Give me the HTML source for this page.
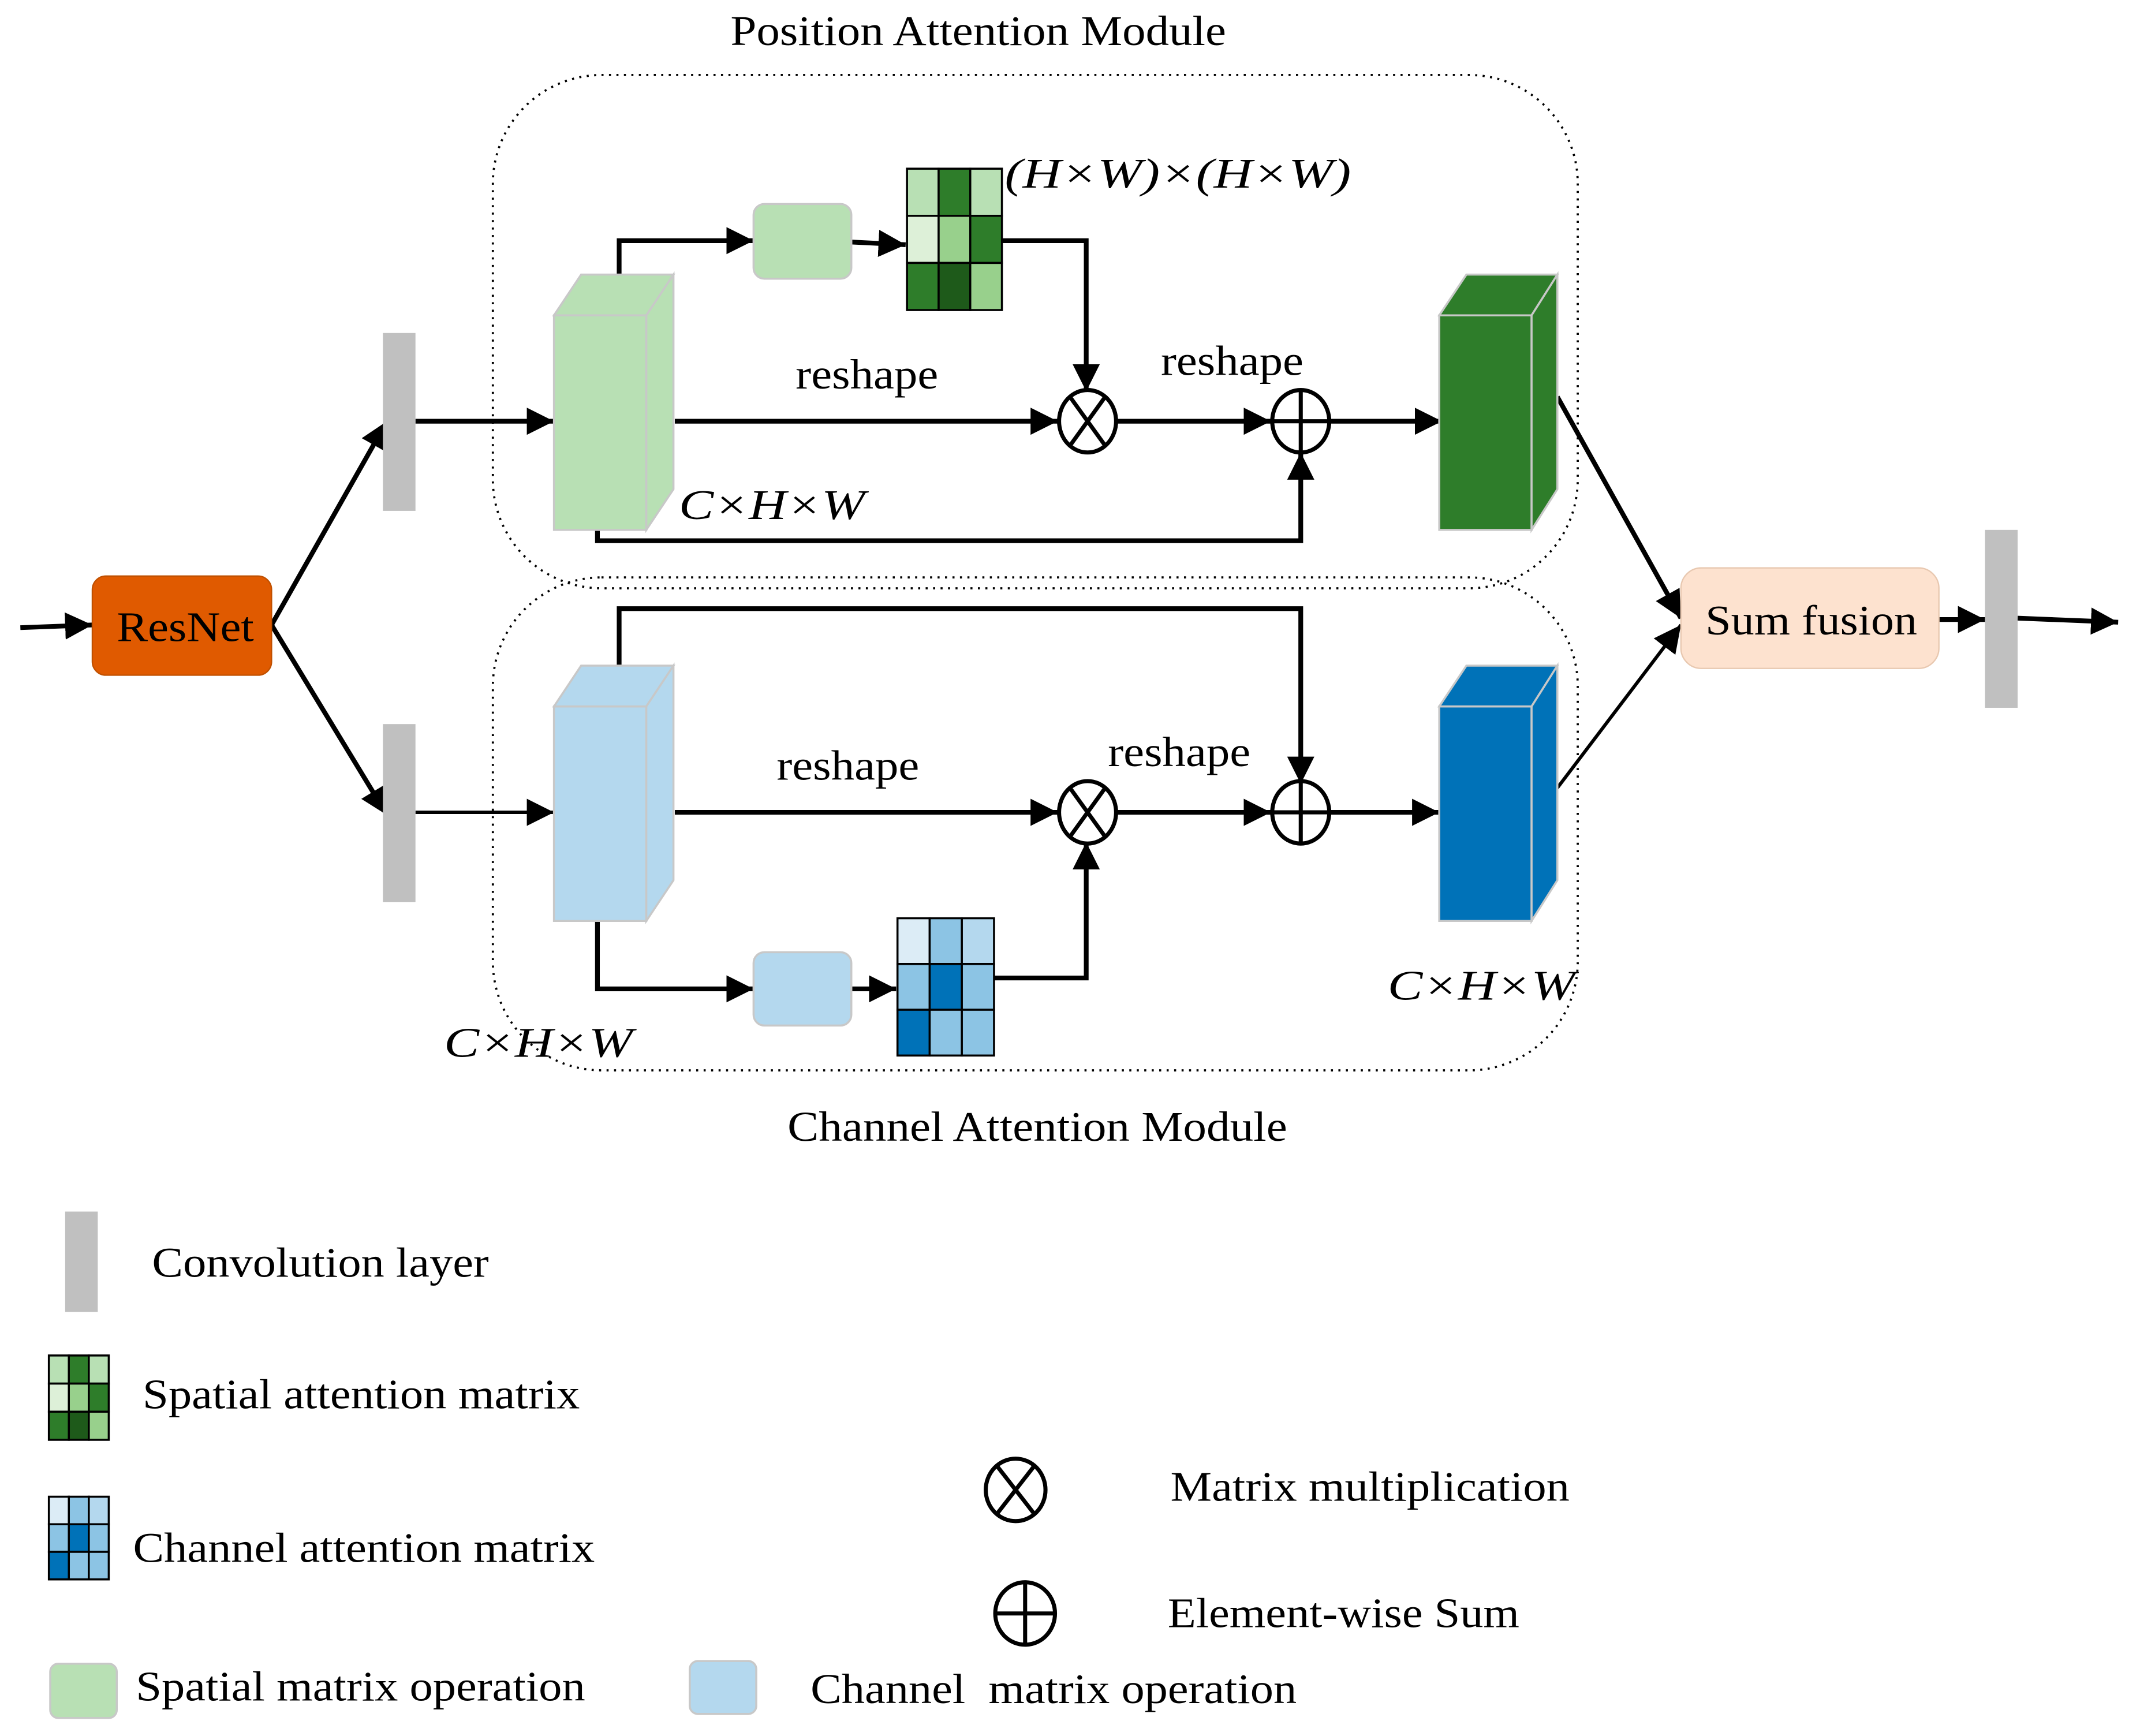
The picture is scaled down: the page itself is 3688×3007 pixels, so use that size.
<!DOCTYPE html>
<html><head><meta charset="utf-8"><style>
html,body{margin:0;padding:0;background:#fff;}
svg{display:block;}
text{font-family:"Liberation Serif",serif;fill:#000;}
.i{font-style:italic;}
</style></head><body>
<svg width="3688" height="3007" viewBox="0 0 1568 1278" xmlns="http://www.w3.org/2000/svg">
<defs>
<marker id="ar" viewBox="0 0 10 10" refX="10" refY="5" markerWidth="20" markerHeight="20" markerUnits="userSpaceOnUse" orient="auto"><path d="M0,0 L10,5 L0,10 z" fill="#000"/></marker>
</defs>
<g fill="none" stroke="#000" stroke-width="1.6" stroke-dasharray="1.5,4">
<rect x="363" y="55" width="799" height="378" rx="80"/>
<rect x="363" y="425" width="799" height="363" rx="80"/>
</g>

<g stroke="#000" stroke-width="3.5" fill="none" marker-end="url(#ar)">
<line x1="15" y1="462" x2="68" y2="460"/>
<line x1="200" y1="460" x2="285" y2="310"/>
<line x1="200" y1="460" x2="285" y2="600"/>
<line x1="306" y1="310" x2="408" y2="310"/>
<line x1="306" y1="598" x2="408" y2="598" stroke-width="2.5"/>
<polyline points="456,202 456,177 555,177"/>
<line x1="627" y1="178" x2="667" y2="180"/>
<polyline points="738,177 800,177 800,288"/>
<line x1="497" y1="310" x2="779" y2="310"/>
<line x1="823" y1="310" x2="936" y2="310"/>
<line x1="980" y1="310" x2="1062" y2="310"/>
<polyline points="440,390 440,398 958,398 958,333"/>
<line x1="1147" y1="292" x2="1238" y2="455"/>
<line x1="1147" y1="580" x2="1238" y2="460" stroke-width="2.5"/>
<line x1="1428" y1="456" x2="1462" y2="456"/>
<line x1="1486" y1="455" x2="1560" y2="458"/>
<polyline points="456,490 456,448 958,448 958,577"/>
<line x1="497" y1="598" x2="779" y2="598"/>
<line x1="823" y1="598" x2="936" y2="598"/>
<line x1="980" y1="598" x2="1060" y2="598"/>
<polyline points="440,678 440,728 555,728"/>
<line x1="627" y1="728" x2="660" y2="728"/>
<polyline points="732,720 800,720 800,620"/>
</g>

<rect x="68" y="424" width="132" height="73" rx="10" fill="#e05a00" stroke="#c05000"/>
<rect x="282" y="245" width="24" height="131" fill="#c0c0c0"/>
<rect x="282" y="533" width="24" height="131" fill="#c0c0c0"/>
<rect x="1462" y="390" width="24" height="131" fill="#c0c0c0"/>
<rect x="1238" y="418" width="190" height="74" rx="15" fill="#fde2cf" stroke="#e8c8b0"/>

<g stroke="#c8c8c8" stroke-width="1.5">
<rect x="408" y="232" width="68" height="158" fill="#b8e0b4"/>
<polygon points="408,232 428,202 496,202 476,232" fill="#b8e0b4"/>
<polygon points="476,232 496,202 496,360 476,390" fill="#b8e0b4"/>
<rect x="1060" y="232" width="68" height="158" fill="#2e7d2a"/>
<polygon points="1060,232 1080,202 1147,202 1128,232" fill="#2e7d2a"/>
<polygon points="1128,232 1147,202 1147,360 1128,390" fill="#2e7d2a"/>
<rect x="408" y="520" width="68" height="158" fill="#b4d8ee"/>
<polygon points="408,520 428,490 496,490 476,520" fill="#b4d8ee"/>
<polygon points="476,520 496,490 496,648 476,678" fill="#b4d8ee"/>
<rect x="1060" y="520" width="68" height="158" fill="#0072b8"/>
<polygon points="1060,520 1080,490 1147,490 1128,520" fill="#0072b8"/>
<polygon points="1128,520 1147,490 1147,648 1128,678" fill="#0072b8"/>
<rect x="555" y="150" width="72" height="55" rx="8" fill="#b8e0b4"/>
<rect x="555" y="701" width="72" height="54" rx="8" fill="#b4d8ee"/>
<rect x="37" y="1225" width="49" height="40" rx="6" fill="#b8e0b4"/>
<rect x="508" y="1223" width="49" height="39" rx="6" fill="#b4d8ee"/>
</g>

<g stroke="#000" stroke-width="1.5">
<rect x="668" y="124" width="23.3" height="34.7" fill="#b8e0b4"/><rect x="691.3" y="124" width="23.3" height="34.7" fill="#2e7d2a"/><rect x="714.6" y="124" width="23.3" height="34.7" fill="#b8e0b4"/>
<rect x="668" y="158.7" width="23.3" height="34.7" fill="#ddf0d8"/><rect x="691.3" y="158.7" width="23.3" height="34.7" fill="#98d08c"/><rect x="714.6" y="158.7" width="23.3" height="34.7" fill="#2e7d2a"/>
<rect x="668" y="193.4" width="23.3" height="34.7" fill="#2e7d2a"/><rect x="691.3" y="193.4" width="23.3" height="34.7" fill="#1e5a1a"/><rect x="714.6" y="193.4" width="23.3" height="34.7" fill="#98d08c"/>
<rect x="661" y="676" width="23.7" height="33.7" fill="#dcecf6"/><rect x="684.7" y="676" width="23.7" height="33.7" fill="#8cc4e4"/><rect x="708.4" y="676" width="23.7" height="33.7" fill="#b4d8ee"/>
<rect x="661" y="709.7" width="23.7" height="33.7" fill="#8cc4e4"/><rect x="684.7" y="709.7" width="23.7" height="33.7" fill="#0072b8"/><rect x="708.4" y="709.7" width="23.7" height="33.7" fill="#8cc4e4"/>
<rect x="661" y="743.4" width="23.7" height="33.7" fill="#0072b8"/><rect x="684.7" y="743.4" width="23.7" height="33.7" fill="#8cc4e4"/><rect x="708.4" y="743.4" width="23.7" height="33.7" fill="#8cc4e4"/>
<rect x="36" y="998" width="14.7" height="20.7" fill="#b8e0b4"/><rect x="50.7" y="998" width="14.7" height="20.7" fill="#2e7d2a"/><rect x="65.4" y="998" width="14.7" height="20.7" fill="#b8e0b4"/>
<rect x="36" y="1018.7" width="14.7" height="20.7" fill="#ddf0d8"/><rect x="50.7" y="1018.7" width="14.7" height="20.7" fill="#98d08c"/><rect x="65.4" y="1018.7" width="14.7" height="20.7" fill="#2e7d2a"/>
<rect x="36" y="1039.4" width="14.7" height="20.7" fill="#2e7d2a"/><rect x="50.7" y="1039.4" width="14.7" height="20.7" fill="#1e5a1a"/><rect x="65.4" y="1039.4" width="14.7" height="20.7" fill="#98d08c"/>
<rect x="36" y="1102" width="14.7" height="20.3" fill="#dcecf6"/><rect x="50.7" y="1102" width="14.7" height="20.3" fill="#8cc4e4"/><rect x="65.4" y="1102" width="14.7" height="20.3" fill="#b4d8ee"/>
<rect x="36" y="1122.3" width="14.7" height="20.3" fill="#8cc4e4"/><rect x="50.7" y="1122.3" width="14.7" height="20.3" fill="#0072b8"/><rect x="65.4" y="1122.3" width="14.7" height="20.3" fill="#8cc4e4"/>
<rect x="36" y="1142.6" width="14.7" height="20.3" fill="#0072b8"/><rect x="50.7" y="1142.6" width="14.7" height="20.3" fill="#8cc4e4"/><rect x="65.4" y="1142.6" width="14.7" height="20.3" fill="#8cc4e4"/>
</g>
<rect x="48" y="892" width="24" height="74" fill="#c0c0c0"/>

<g stroke="#000" stroke-width="3" fill="#fff">
<ellipse cx="801" cy="310" rx="21" ry="23"/><path d="M788,292 L814,328 M814,292 L788,328"/>
<ellipse cx="958" cy="310" rx="21" ry="23"/><path d="M937,310 H979 M958,287 V333"/>
<ellipse cx="801" cy="598" rx="21" ry="23"/><path d="M788,580 L814,616 M814,580 L788,616"/>
<ellipse cx="958" cy="598" rx="21" ry="23"/><path d="M937,598 H979 M958,575 V621"/>
<ellipse cx="748" cy="1097" rx="22" ry="23"/><path d="M734,1079 L762,1115 M762,1079 L734,1115"/>
<ellipse cx="755" cy="1188" rx="22" ry="23"/><path d="M733,1188 H777 M755,1165 V1211"/>
</g>

<g font-size="31" lengthAdjust="spacingAndGlyphs">
<text x="538" y="33" textLength="365" lengthAdjust="spacingAndGlyphs">Position Attention Module</text>
<text x="580" y="840" textLength="368" lengthAdjust="spacingAndGlyphs">Channel Attention Module</text>
<text x="86" y="472" textLength="101" lengthAdjust="spacingAndGlyphs">ResNet</text>
<text x="1256" y="467" textLength="156" lengthAdjust="spacingAndGlyphs">Sum fusion</text>
<text x="586" y="286" textLength="105" lengthAdjust="spacingAndGlyphs">reshape</text>
<text x="855" y="276" textLength="105" lengthAdjust="spacingAndGlyphs">reshape</text>
<text x="572" y="574" textLength="105" lengthAdjust="spacingAndGlyphs">reshape</text>
<text x="816" y="564" textLength="105" lengthAdjust="spacingAndGlyphs">reshape</text>
<text x="740" y="138" class="i" textLength="255" lengthAdjust="spacingAndGlyphs">(H×W)×(H×W)</text>
<text x="500" y="382" class="i" textLength="137" lengthAdjust="spacingAndGlyphs">C×H×W</text>
<text x="1022" y="736" class="i" textLength="138" lengthAdjust="spacingAndGlyphs">C×H×W</text>
<text x="327" y="778" class="i" textLength="139" lengthAdjust="spacingAndGlyphs">C×H×W</text>
<text x="112" y="940" textLength="248" lengthAdjust="spacingAndGlyphs">Convolution layer</text>
<text x="105" y="1037" textLength="322" lengthAdjust="spacingAndGlyphs">Spatial attention matrix</text>
<text x="98" y="1150" textLength="340" lengthAdjust="spacingAndGlyphs">Channel attention matrix</text>
<text x="100" y="1252" textLength="331" lengthAdjust="spacingAndGlyphs">Spatial matrix operation</text>
<text x="597" y="1254" xml:space="preserve" textLength="358" lengthAdjust="spacingAndGlyphs">Channel  matrix operation</text>
<text x="862" y="1105" textLength="294" lengthAdjust="spacingAndGlyphs">Matrix multiplication</text>
<text x="860" y="1198" textLength="259" lengthAdjust="spacingAndGlyphs">Element-wise Sum</text>
</g>
</svg>
</body></html>
